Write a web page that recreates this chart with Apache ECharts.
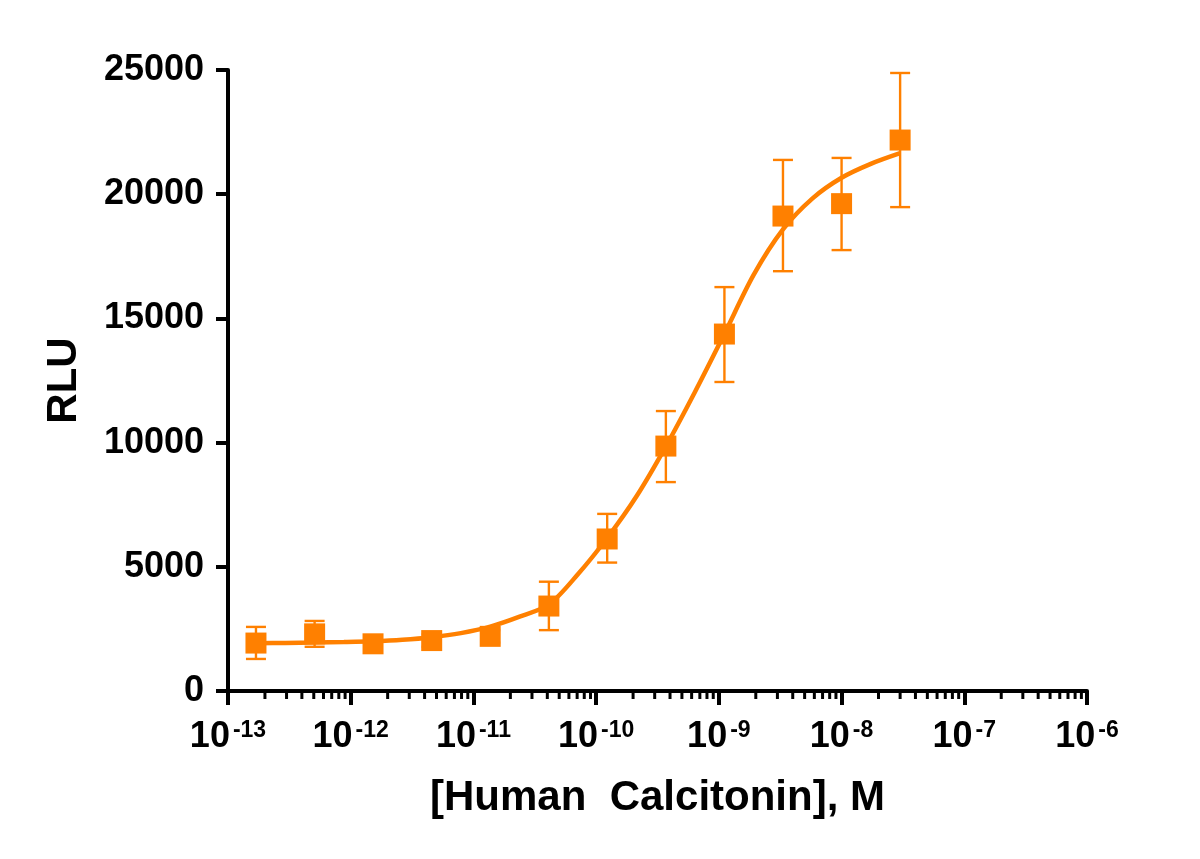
<!DOCTYPE html>
<html>
<head>
<meta charset="utf-8">
<script src="https://cdn.jsdelivr.net/npm/echarts@6/dist/echarts.min.js"></script>
<style>
  html, body { margin: 0; padding: 0; background: #fff; }
  #chart { width: 1200px; height: 859px; }
</style>
</head>
<body>
<div id="chart"></div>
<script>
// measured points (mean with upper / lower error bar ends)
const concentrations = [1.69e-13, 5.08e-13, 1.52e-12, 4.57e-12, 1.37e-11, 4.12e-11, 1.23e-10, 3.70e-10, 1.11e-9, 3.33e-9, 1.0e-8, 3.0e-8];
const rluMean  = [1930, 2300, 1900, 2030, 2200, 3420, 6120, 9860, 14370, 19120, 19620, 22180];
const rluUpper = [2580, 2820, 2150, 2280, 2450, 4400, 7130, 11270, 16260, 21380, 21460, 24880];
const rluLower = [1290, 1780, 1650, 1780, 1950, 2450, 5170, 8410, 12440, 16900, 17750, 19480];

// fitted curve
const fitX = [1.69e-13, 2.93e-13, 5.08e-13, 8.8e-13, 1.52e-12, 2.64e-12, 4.57e-12, 7.9e-12, 1.37e-11, 2.38e-11, 4.12e-11, 7.1e-11, 1.23e-10, 2.14e-10, 3.70e-10, 6.4e-10, 1.11e-9, 1.92e-9, 3.33e-9, 5.8e-9, 1.0e-8, 1.73e-8, 3.0e-8];
const fitY = [1925, 1935, 1950, 1970, 2000, 2060, 2165, 2330, 2590, 2990, 3480, 4700, 6160, 7850, 9850, 12050, 14380, 16750, 18580, 19830, 20660, 21220, 21650];

const xMin = 1e-13;
const xMax = 1e-6;
const yTicks = [0, 5000, 10000, 15000, 20000, 25000];

const orange = '#FF8000';
const font = '"Liberation Sans", Arial, sans-serif';

// minor ticks 2..9 inside each decade
const minorTicks = [];
for (let e = -13; e < -6; e++) {
  for (let k = 2; k <= 9; k++) minorTicks.push([k * Math.pow(10, e), 0]);
}

const chart = echarts.init(document.getElementById('chart'));

chart.setOption({
  animation: false,
  grid: { left: 228, right: 113, top: 70, bottom: 168 },
  xAxis: {
    type: 'log',
    logBase: 10,
    min: xMin,
    max: xMax,
    splitNumber: 7,
    name: '[Human  Calcitonin], M',
    nameLocation: 'middle',
    nameGap: 86,
    nameTextStyle: { fontFamily: font, fontWeight: 'bold', fontSize: 42, color: '#000' },
    axisLine: { lineStyle: { color: '#000', width: 4 } },
    axisTick: { length: 14, lineStyle: { color: '#000', width: 4 } },
    minorTick: { show: false },
    splitLine: { show: false },
    axisLabel: {
      margin: 28,
      color: '#000',
      formatter: function (v) {
        const e = Math.round(Math.log10(v));
        return '{b|10}{s|' + e + '}';
      },
      rich: {
        b: { fontFamily: font, fontWeight: 'bold', fontSize: 36, color: '#000', lineHeight: 36 },
        s: { fontFamily: font, fontWeight: 'bold', fontSize: 23, color: '#000', verticalAlign: 'top', lineHeight: 36, padding: [0, 0, 0, 3] }
      }
    }
  },
  yAxis: {
    type: 'value',
    min: yTicks[0],
    max: yTicks[yTicks.length - 1],
    interval: 5000,
    name: 'RLU',
    nameLocation: 'middle',
    nameGap: 143,
    nameRotate: 90,
    nameTextStyle: { fontFamily: font, fontWeight: 'bold', fontSize: 42, color: '#000' },
    axisLine: { show: true, lineStyle: { color: '#000', width: 4 } },
    axisTick: { show: true, length: 12, lineStyle: { color: '#000', width: 4 } },
    splitLine: { show: false },
    axisLabel: {
      margin: 24,
      fontFamily: font,
      fontWeight: 'bold',
      fontSize: 36,
      color: '#000',
      formatter: function (v) { return String(v); }
    }
  },
  series: [
    {
      type: 'custom',
      name: 'minor ticks',
      silent: true,
      clip: false,
      data: minorTicks,
      renderItem: function (params, api) {
        const p = api.coord([api.value(0), 0]);
        return {
          type: 'line',
          shape: { x1: p[0], y1: p[1], x2: p[0], y2: p[1] + 8 },
          style: { stroke: '#000', lineWidth: 3 }
        };
      }
    },
    {
      type: 'custom',
      name: 'error',
      silent: true,
      data: concentrations.map((c, i) => [c, rluLower[i], rluUpper[i]]),
      renderItem: function (params, api) {
        const lo = api.coord([api.value(0), api.value(1)]);
        const hi = api.coord([api.value(0), api.value(2)]);
        const w = 10;
        const st = { stroke: orange, lineWidth: 2.4 };
        return {
          type: 'group',
          children: [
            { type: 'line', shape: { x1: lo[0], y1: lo[1], x2: hi[0], y2: hi[1] }, style: st },
            { type: 'line', shape: { x1: lo[0] - w, y1: lo[1], x2: lo[0] + w, y2: lo[1] }, style: st },
            { type: 'line', shape: { x1: hi[0] - w, y1: hi[1], x2: hi[0] + w, y2: hi[1] }, style: st }
          ]
        };
      }
    },
    {
      type: 'line',
      name: 'fit',
      data: fitX.map((x, i) => [x, fitY[i]]),
      smooth: 0.3,
      showSymbol: false,
      lineStyle: { color: orange, width: 4.5 },
      z: 3
    },
    {
      type: 'scatter',
      name: 'RLU',
      data: concentrations.map((c, i) => [c, rluMean[i]]),
      symbol: 'rect',
      symbolSize: 21,
      itemStyle: { color: orange, opacity: 1 },
      z: 4
    }
  ]
});
</script>
</body>
</html>
